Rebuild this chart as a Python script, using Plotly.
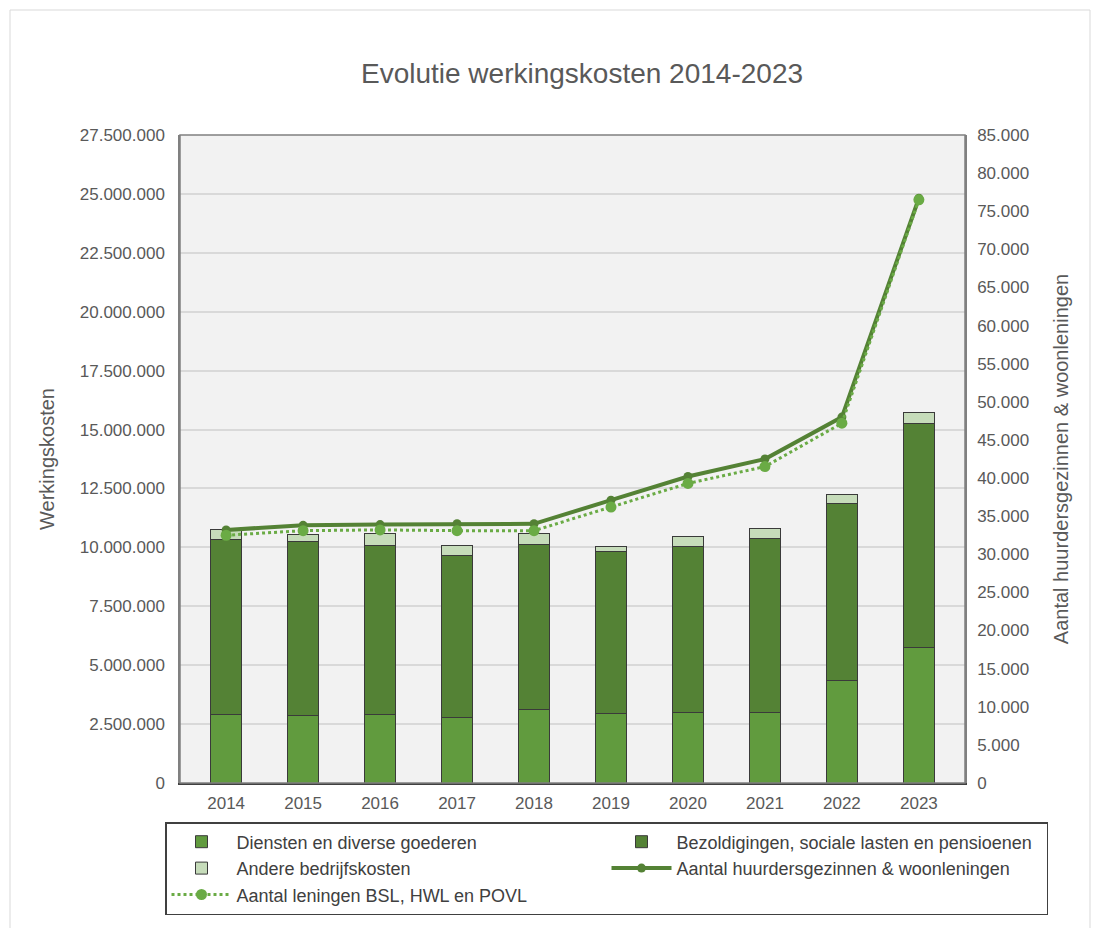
import plotly.graph_objects as go

years = ["2014", "2015", "2016", "2017", "2018", "2019", "2020", "2021", "2022", "2023"]
diensten = [2890000, 2860000, 2900000, 2790000, 3100000, 2930000, 3010000, 3010000, 4340000, 5740000]
bezoldigingen = [7460000, 7380000, 7200000, 6860000, 7040000, 6890000, 7020000, 7370000, 7530000, 9510000]
andere = [390000, 310000, 470000, 420000, 460000, 210000, 420000, 420000, 390000, 480000]
huurders = [33200, 33800, 33900, 34000, 34000, 37100, 40200, 42500, 48000, 76700]
leningen = [32500, 33100, 33200, 33100, 33100, 36200, 39300, 41500, 47200, 76500]

left_ticks = list(range(0, 27500001, 2500000))
right_ticks = list(range(0, 85001, 5000))

GRAY = "#595959"
FONT = "Liberation Sans, Arial, sans-serif"
OUT = "#3a3a3a"

fig = go.Figure()
fig.add_trace(go.Bar(x=years, y=diensten, name="Diensten en diverse goederen",
                     marker=dict(color="#619b3e", line=dict(color=OUT, width=1))))
fig.add_trace(go.Bar(x=years, y=bezoldigingen, name="Bezoldigingen, sociale lasten en pensioenen",
                     marker=dict(color="#548235", line=dict(color=OUT, width=1))))
fig.add_trace(go.Bar(x=years, y=andere, name="Andere bedrijfskosten",
                     marker=dict(color="#c6dcba", line=dict(color=OUT, width=1))))
fig.add_trace(go.Scatter(x=years, y=huurders, name="Aantal huurdersgezinnen & woonleningen",
                         yaxis="y2", mode="lines+markers",
                         line=dict(color="#548235", width=4),
                         marker=dict(color="#548235", size=9)))
fig.add_trace(go.Scatter(x=years, y=leningen, name="Aantal leningen BSL, HWL en POVL",
                         yaxis="y2", mode="lines+markers",
                         line=dict(color="#6aab45", width=3, dash="dot"),
                         marker=dict(color="#6aab45", size=11)))

L, R, T, B = 180, 1098 - 965, 135, 928 - 783
pw, ph = 965 - 180, 783 - 135

fig.update_layout(
    width=1098, height=928,
    margin=dict(l=L, r=R, t=T, b=B, autoexpand=False),
    barmode="stack", bargap=0.6,
    paper_bgcolor="white", plot_bgcolor="#f2f2f2",
    separators=",.",
    font=dict(family=FONT, size=17, color=GRAY),
    title=dict(text="Evolutie werkingskosten 2014-2023", x=582 / 1098, xref="container",
               xanchor="center", y=1 - 73 / 928, yref="container", yanchor="middle",
               font=dict(size=28, color=GRAY, family=FONT)),
    xaxis=dict(type="category", showgrid=False, showline=True, linecolor="#404040", linewidth=1.5,
               ticks="", tickfont=dict(size=17, color=GRAY), ticklabelstandoff=4),
    yaxis=dict(range=[0, 27500000], tickvals=left_ticks, tickformat=",d",
               showgrid=True, gridcolor="#d9d9d9", gridwidth=1.5, zeroline=False,
               showline=True, linecolor="#808080", linewidth=1.5,
               tickfont=dict(size=17, color=GRAY), ticklabelstandoff=10,
               title=dict(text="Werkingskosten", font=dict(size=20, color=GRAY), standoff=20)),
    yaxis2=dict(range=[0, 85000], tickvals=right_ticks, tickformat=",d", overlaying="y", side="right",
                showgrid=False, zeroline=False, showline=True, linecolor="#808080", linewidth=1.5,
                tickfont=dict(size=17, color=GRAY), ticklabelstandoff=7,
                title=dict(text="Aantal huurdersgezinnen & woonleningen", font=dict(size=20, color=GRAY),
                           standoff=26)),
    legend=dict(orientation="h", x=(165 - 180) / pw, xanchor="left", y=(783 - 822) / ph, yanchor="top",
                entrywidth=365, entrywidthmode="pixels", bordercolor="#404040", borderwidth=1.5,
                font=dict(size=18, color="#404040"), bgcolor="white", traceorder="normal",
                itemwidth=60),
    shapes=[
        dict(type="rect", xref="paper", yref="paper", x0=(10 - 180) / pw, x1=(1090 - 180) / pw,
             y0=(783 - 960) / ph, y1=(783 - 10) / ph, line=dict(color="#d9d9d9", width=1), layer="below"),
        dict(type="rect", xref="paper", yref="paper", x0=0, x1=1, y0=0, y1=1,
             line=dict(color="#808080", width=1.5)),
    ],
)

fig.write_html("out.html")
